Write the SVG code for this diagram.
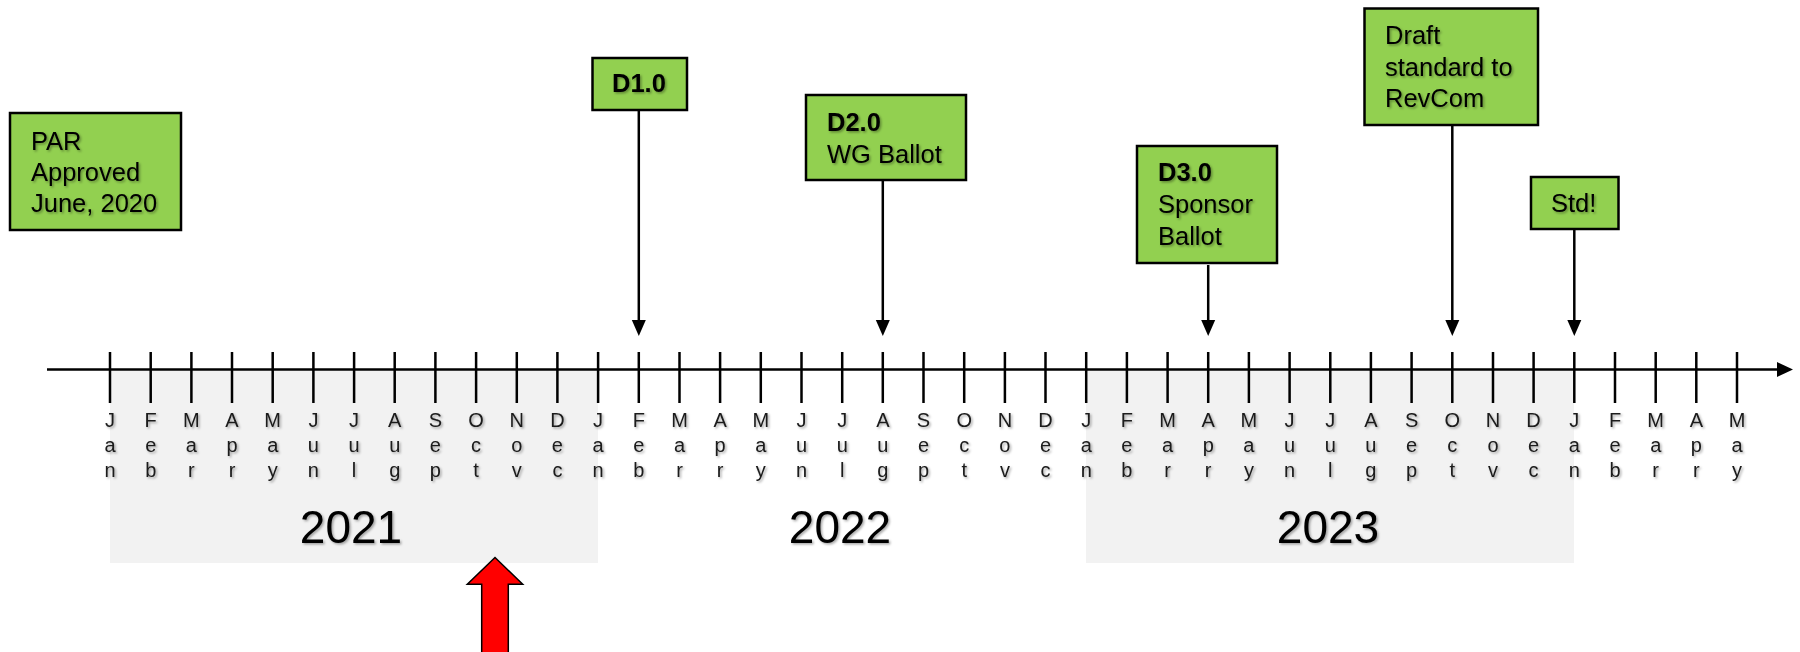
<svg xmlns="http://www.w3.org/2000/svg" width="1800" height="652" viewBox="0 0 1800 652">
<style>
.box{fill:#92d050;stroke:#000;stroke-width:2.5}
.bt{font-family:"Liberation Sans",Arial,sans-serif;font-size:25.5px;fill:#000}
.b{font-weight:bold}
.mo{font-family:"Liberation Sans",Arial,sans-serif;font-size:20px;fill:#1a1a1a;text-anchor:middle}
.yr{font-family:"Liberation Sans",Arial,sans-serif;font-size:46px;fill:#000;text-anchor:middle}
.ln{stroke:#000;stroke-width:2.5;fill:none}
.band{fill:#f2f2f2}
</style>
<defs>
<filter id="sh" x="-10%" y="-10%" width="130%" height="140%">
<feDropShadow dx="1.5" dy="1.5" stdDeviation="1" flood-color="#000" flood-opacity="0.35"/>
</filter>
</defs>
<rect width="1800" height="652" fill="#fff"/>
<g id="bands">
<rect class="band" x="110" y="371" width="488" height="192"/>
<rect class="band" x="1086" y="371" width="488" height="192"/>
</g>
<g id="axis">
<line class="ln" x1="47" y1="369.5" x2="1780" y2="369.5"/>
<polygon points="1777,362 1793,369.5 1777,377" fill="#000"/>
<path class="ln" d="M110,352V403M150.7,352V403M191.4,352V403M232,352V403M272.7,352V403M313.4,352V403M354.1,352V403M394.7,352V403M435.4,352V403M476.1,352V403M516.8,352V403M557.4,352V403M598.1,352V403M638.8,352V403M679.5,352V403M720.1,352V403M760.8,352V403M801.5,352V403M842.2,352V403M882.8,352V403M923.5,352V403M964.2,352V403M1004.9,352V403M1045.5,352V403M1086.2,352V403M1126.9,352V403M1167.6,352V403M1208.2,352V403M1248.9,352V403M1289.6,352V403M1330.3,352V403M1370.9,352V403M1411.6,352V403M1452.3,352V403M1493,352V403M1533.6,352V403M1574.3,352V403M1615,352V403M1655.7,352V403M1696.3,352V403M1737,352V403"/>
</g>
<g id="months" filter="url(#sh)">
<text class="mo"><tspan x="110" y="427">J</tspan><tspan x="110" y="452">a</tspan><tspan x="110" y="477">n</tspan></text>
<text class="mo"><tspan x="150.7" y="427">F</tspan><tspan x="150.7" y="452">e</tspan><tspan x="150.7" y="477">b</tspan></text>
<text class="mo"><tspan x="191.4" y="427">M</tspan><tspan x="191.4" y="452">a</tspan><tspan x="191.4" y="477">r</tspan></text>
<text class="mo"><tspan x="232" y="427">A</tspan><tspan x="232" y="452">p</tspan><tspan x="232" y="477">r</tspan></text>
<text class="mo"><tspan x="272.7" y="427">M</tspan><tspan x="272.7" y="452">a</tspan><tspan x="272.7" y="477">y</tspan></text>
<text class="mo"><tspan x="313.4" y="427">J</tspan><tspan x="313.4" y="452">u</tspan><tspan x="313.4" y="477">n</tspan></text>
<text class="mo"><tspan x="354.1" y="427">J</tspan><tspan x="354.1" y="452">u</tspan><tspan x="354.1" y="477">l</tspan></text>
<text class="mo"><tspan x="394.7" y="427">A</tspan><tspan x="394.7" y="452">u</tspan><tspan x="394.7" y="477">g</tspan></text>
<text class="mo"><tspan x="435.4" y="427">S</tspan><tspan x="435.4" y="452">e</tspan><tspan x="435.4" y="477">p</tspan></text>
<text class="mo"><tspan x="476.1" y="427">O</tspan><tspan x="476.1" y="452">c</tspan><tspan x="476.1" y="477">t</tspan></text>
<text class="mo"><tspan x="516.8" y="427">N</tspan><tspan x="516.8" y="452">o</tspan><tspan x="516.8" y="477">v</tspan></text>
<text class="mo"><tspan x="557.4" y="427">D</tspan><tspan x="557.4" y="452">e</tspan><tspan x="557.4" y="477">c</tspan></text>
<text class="mo"><tspan x="598.1" y="427">J</tspan><tspan x="598.1" y="452">a</tspan><tspan x="598.1" y="477">n</tspan></text>
<text class="mo"><tspan x="638.8" y="427">F</tspan><tspan x="638.8" y="452">e</tspan><tspan x="638.8" y="477">b</tspan></text>
<text class="mo"><tspan x="679.5" y="427">M</tspan><tspan x="679.5" y="452">a</tspan><tspan x="679.5" y="477">r</tspan></text>
<text class="mo"><tspan x="720.1" y="427">A</tspan><tspan x="720.1" y="452">p</tspan><tspan x="720.1" y="477">r</tspan></text>
<text class="mo"><tspan x="760.8" y="427">M</tspan><tspan x="760.8" y="452">a</tspan><tspan x="760.8" y="477">y</tspan></text>
<text class="mo"><tspan x="801.5" y="427">J</tspan><tspan x="801.5" y="452">u</tspan><tspan x="801.5" y="477">n</tspan></text>
<text class="mo"><tspan x="842.2" y="427">J</tspan><tspan x="842.2" y="452">u</tspan><tspan x="842.2" y="477">l</tspan></text>
<text class="mo"><tspan x="882.8" y="427">A</tspan><tspan x="882.8" y="452">u</tspan><tspan x="882.8" y="477">g</tspan></text>
<text class="mo"><tspan x="923.5" y="427">S</tspan><tspan x="923.5" y="452">e</tspan><tspan x="923.5" y="477">p</tspan></text>
<text class="mo"><tspan x="964.2" y="427">O</tspan><tspan x="964.2" y="452">c</tspan><tspan x="964.2" y="477">t</tspan></text>
<text class="mo"><tspan x="1004.9" y="427">N</tspan><tspan x="1004.9" y="452">o</tspan><tspan x="1004.9" y="477">v</tspan></text>
<text class="mo"><tspan x="1045.5" y="427">D</tspan><tspan x="1045.5" y="452">e</tspan><tspan x="1045.5" y="477">c</tspan></text>
<text class="mo"><tspan x="1086.2" y="427">J</tspan><tspan x="1086.2" y="452">a</tspan><tspan x="1086.2" y="477">n</tspan></text>
<text class="mo"><tspan x="1126.9" y="427">F</tspan><tspan x="1126.9" y="452">e</tspan><tspan x="1126.9" y="477">b</tspan></text>
<text class="mo"><tspan x="1167.6" y="427">M</tspan><tspan x="1167.6" y="452">a</tspan><tspan x="1167.6" y="477">r</tspan></text>
<text class="mo"><tspan x="1208.2" y="427">A</tspan><tspan x="1208.2" y="452">p</tspan><tspan x="1208.2" y="477">r</tspan></text>
<text class="mo"><tspan x="1248.9" y="427">M</tspan><tspan x="1248.9" y="452">a</tspan><tspan x="1248.9" y="477">y</tspan></text>
<text class="mo"><tspan x="1289.6" y="427">J</tspan><tspan x="1289.6" y="452">u</tspan><tspan x="1289.6" y="477">n</tspan></text>
<text class="mo"><tspan x="1330.3" y="427">J</tspan><tspan x="1330.3" y="452">u</tspan><tspan x="1330.3" y="477">l</tspan></text>
<text class="mo"><tspan x="1370.9" y="427">A</tspan><tspan x="1370.9" y="452">u</tspan><tspan x="1370.9" y="477">g</tspan></text>
<text class="mo"><tspan x="1411.6" y="427">S</tspan><tspan x="1411.6" y="452">e</tspan><tspan x="1411.6" y="477">p</tspan></text>
<text class="mo"><tspan x="1452.3" y="427">O</tspan><tspan x="1452.3" y="452">c</tspan><tspan x="1452.3" y="477">t</tspan></text>
<text class="mo"><tspan x="1493" y="427">N</tspan><tspan x="1493" y="452">o</tspan><tspan x="1493" y="477">v</tspan></text>
<text class="mo"><tspan x="1533.6" y="427">D</tspan><tspan x="1533.6" y="452">e</tspan><tspan x="1533.6" y="477">c</tspan></text>
<text class="mo"><tspan x="1574.3" y="427">J</tspan><tspan x="1574.3" y="452">a</tspan><tspan x="1574.3" y="477">n</tspan></text>
<text class="mo"><tspan x="1615" y="427">F</tspan><tspan x="1615" y="452">e</tspan><tspan x="1615" y="477">b</tspan></text>
<text class="mo"><tspan x="1655.7" y="427">M</tspan><tspan x="1655.7" y="452">a</tspan><tspan x="1655.7" y="477">r</tspan></text>
<text class="mo"><tspan x="1696.3" y="427">A</tspan><tspan x="1696.3" y="452">p</tspan><tspan x="1696.3" y="477">r</tspan></text>
<text class="mo"><tspan x="1737" y="427">M</tspan><tspan x="1737" y="452">a</tspan><tspan x="1737" y="477">y</tspan></text>
</g>
<g id="years" filter="url(#sh)">
<text class="yr" x="351" y="543">2021</text>
<text class="yr" x="840" y="543">2022</text>
<text class="yr" x="1328" y="543">2023</text>
</g>
<g id="connectors">
<line class="ln" x1="638.8" y1="110" x2="638.8" y2="326"/>
<polygon points="631.8,320 645.8,320 638.8,336" fill="#000"/>
<line class="ln" x1="882.8" y1="180" x2="882.8" y2="326"/>
<polygon points="875.8,320 889.8,320 882.8,336" fill="#000"/>
<line class="ln" x1="1208.2" y1="265" x2="1208.2" y2="326"/>
<polygon points="1201.2,320 1215.2,320 1208.2,336" fill="#000"/>
<line class="ln" x1="1452.3" y1="125" x2="1452.3" y2="326"/>
<polygon points="1445.3,320 1459.3,320 1452.3,336" fill="#000"/>
<line class="ln" x1="1574.3" y1="229" x2="1574.3" y2="326"/>
<polygon points="1567.3,320 1581.3,320 1574.3,336" fill="#000"/>
</g>
<g id="par">
<rect class="box" x="10" y="113" width="171" height="117"/>
<text class="bt" filter="url(#sh)"><tspan x="31" y="150">PAR</tspan><tspan x="31" y="181">Approved</tspan><tspan x="31" y="212">June, 2020</tspan></text>
</g>
<g id="d1">
<rect class="box" x="592.5" y="58" width="94.5" height="52"/>
<text class="bt b" filter="url(#sh)" x="612" y="92">D1.0</text>
</g>
<g id="d2">
<rect class="box" x="806" y="95" width="160" height="85"/>
<text class="bt" filter="url(#sh)"><tspan class="b" x="827" y="131">D2.0</tspan><tspan x="827" y="163">WG Ballot</tspan></text>
</g>
<g id="d3">
<rect class="box" x="1137" y="146" width="140" height="117"/>
<text class="bt" filter="url(#sh)"><tspan class="b" x="1158" y="181">D3.0</tspan><tspan x="1158" y="213">Sponsor</tspan><tspan x="1158" y="245">Ballot</tspan></text>
</g>
<g id="revcom">
<rect class="box" x="1364.5" y="8.5" width="173.5" height="116.5"/>
<text class="bt" filter="url(#sh)"><tspan x="1385" y="44">Draft</tspan><tspan x="1385" y="76">standard to</tspan><tspan x="1385" y="107">RevCom</tspan></text>
</g>
<g id="std">
<rect class="box" x="1531" y="177" width="87.5" height="52"/>
<text class="bt" filter="url(#sh)" x="1551" y="212">Std!</text>
</g>
<g id="now">
<polygon points="495,557.5 522.7,584.3 508.3,584.3 508.3,660 481.7,660 481.7,584.3 467.3,584.3" fill="#ff0000" stroke="#000" stroke-width="1.5"/>
</g>
</svg>
